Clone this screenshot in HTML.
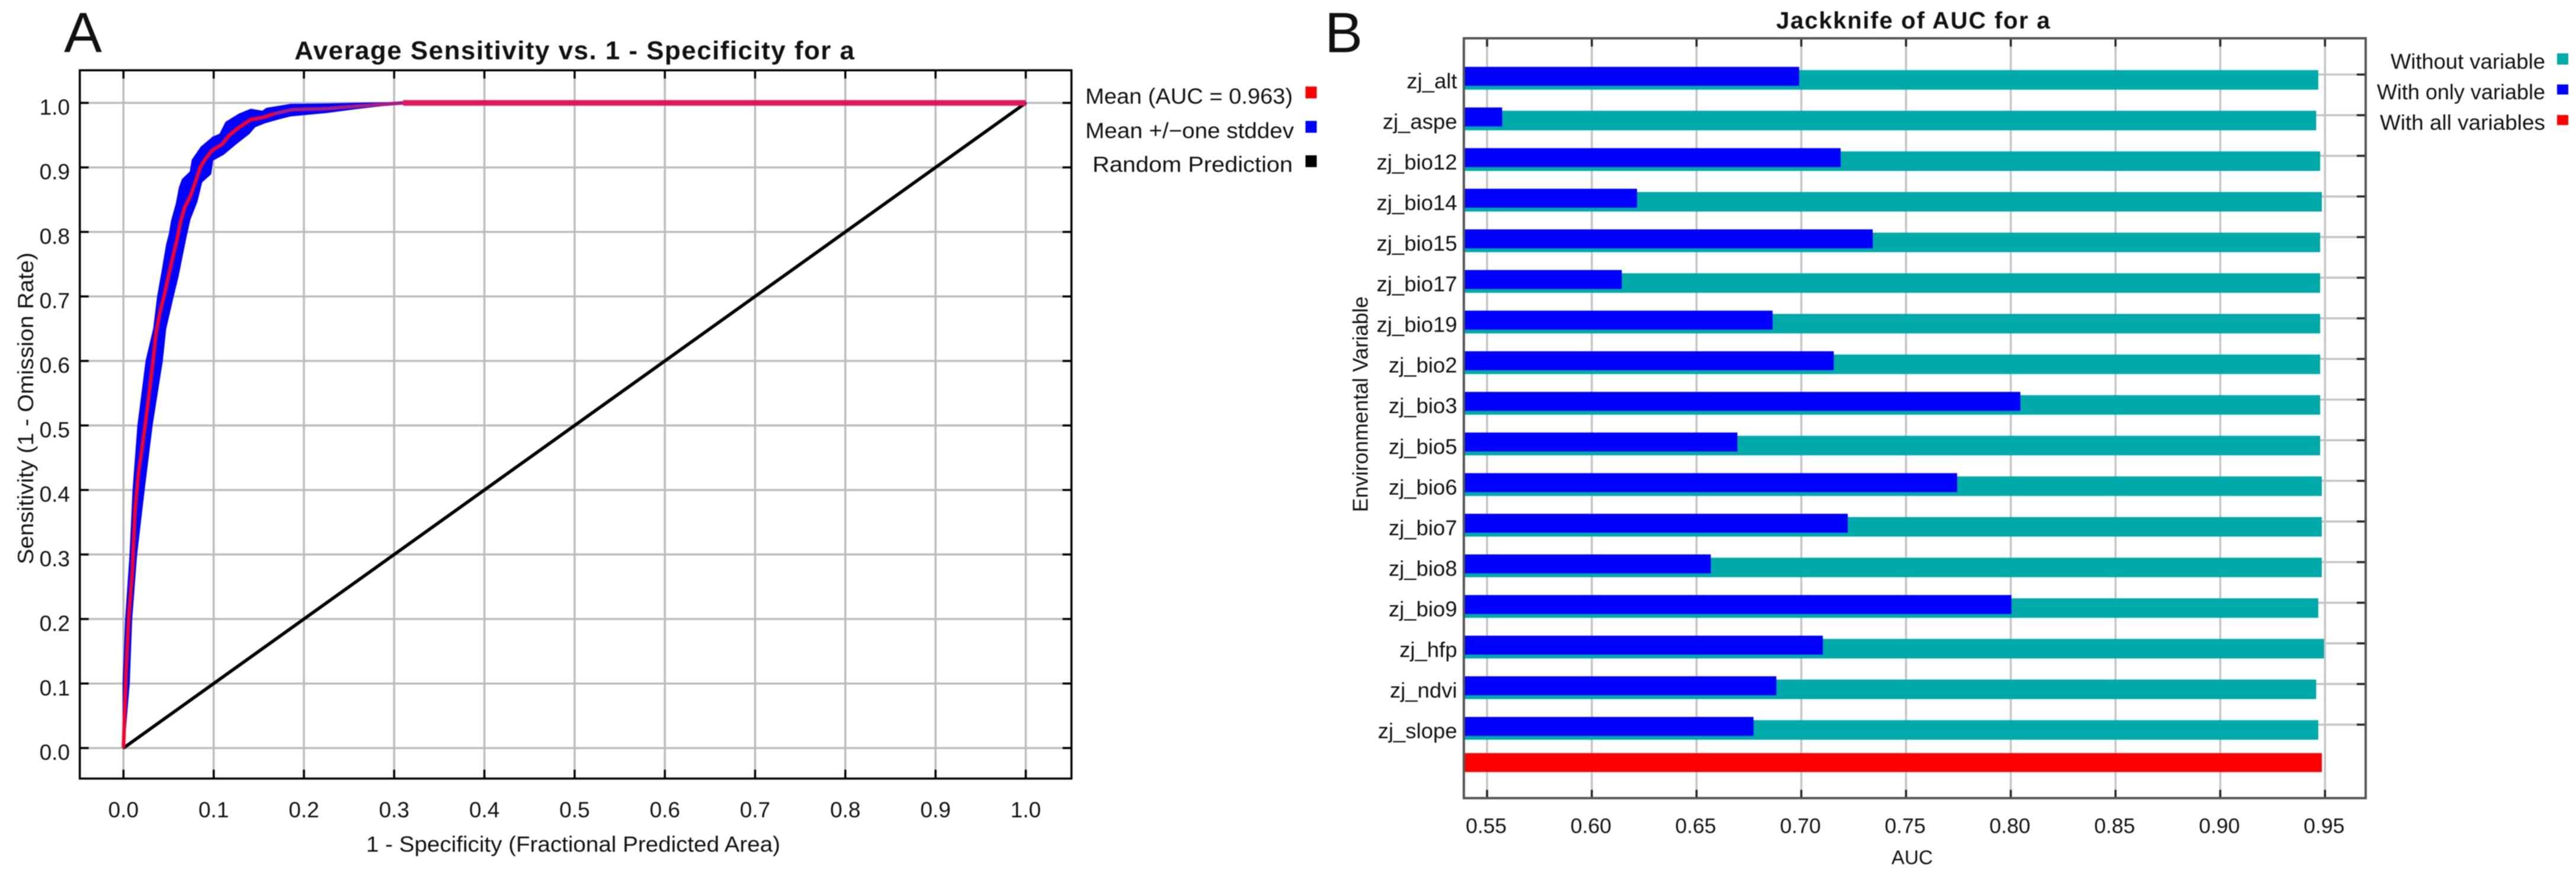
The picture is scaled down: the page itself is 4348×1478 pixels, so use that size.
<!DOCTYPE html>
<html lang="en">
<head>
<meta charset="utf-8">
<title>ROC curve and jackknife of AUC</title>
<style>
  html, body { margin: 0; padding: 0; background: #fff; }
  svg { display: block; font-family: "Liberation Sans", sans-serif; filter: blur(0.7px); }
  text { fill: #111; }
</style>
</head>
<body>
<svg id="figure" xmlns="http://www.w3.org/2000/svg" width="4348" height="1478" viewBox="0 0 4348 1478">
  <rect x="0" y="0" width="4348" height="1478" fill="#fff"/>
  <g id="panelA"></g>
  <g id="panelB"></g>

  <text x="108" y="88" font-size="96">A</text>
  <text x="497" y="100" font-size="44" font-weight="bold" textLength="945" lengthAdjust="spacing">Average Sensitivity vs. 1 - Specificity for a</text>
  <text x="618" y="1437" font-size="37" textLength="699" lengthAdjust="spacingAndGlyphs">1 - Specificity (Fractional Predicted Area)</text>
  <text transform="translate(56 952) rotate(-90)" font-size="37" textLength="526" lengthAdjust="spacingAndGlyphs">Sensitivity (1 - Omission Rate)</text>

  <g>
    <text x="1832" y="175" font-size="37" textLength="350" lengthAdjust="spacingAndGlyphs">Mean (AUC = 0.963)</text>
    <rect x="2203.5" y="146" width="19" height="20" fill="#ff0000"/>
    <text x="1832" y="233" font-size="37" textLength="352" lengthAdjust="spacingAndGlyphs">Mean +/−one stddev</text>
    <rect x="2203.5" y="204" width="19" height="20" fill="#0000ff"/>
    <text x="1844" y="290" font-size="37" textLength="338" lengthAdjust="spacingAndGlyphs">Random Prediction</text>
    <rect x="2203.5" y="262" width="19" height="20" fill="#000"/>
  </g>

  <text x="2236" y="88" font-size="96">B</text>
  <text x="2998" y="48" font-size="40" font-weight="bold" textLength="462" lengthAdjust="spacing">Jackknife of AUC for a</text>
  <text x="3192.5" y="1458" font-size="33" textLength="70" lengthAdjust="spacingAndGlyphs">AUC</text>
  <text transform="translate(2308.5 864) rotate(-90)" font-size="36" textLength="364" lengthAdjust="spacingAndGlyphs">Environmental Variable</text>

  <g>
    <text x="4035" y="116" font-size="36" textLength="261" lengthAdjust="spacingAndGlyphs">Without variable</text>
    <rect x="4316" y="90" width="19" height="19" fill="#00aaaa"/>
    <text x="4012" y="167.500" font-size="36" textLength="284" lengthAdjust="spacingAndGlyphs">With only variable</text>
    <rect x="4316" y="142.500" width="19" height="17" fill="#0000ff"/>
    <text x="4017" y="219" font-size="36" textLength="279" lengthAdjust="spacingAndGlyphs">With all variables</text>
    <rect x="4316" y="194" width="19" height="17" fill="#ff0000"/>
  </g>
</svg>

<script>
// ROC chart data
const rocTicks = [0.0, 0.1, 0.2, 0.3, 0.4, 0.5, 0.6, 0.7, 0.8, 0.9, 1.0];
const randomFpr = [0, 1];
const randomTpr = [0, 1];
const meanFpr = [0,.0028,.006,.0097,.0129,.0165,.0207,.024,.0328,.0359,.0405,.0449,.0503,.0547,.059,.0634,.0678,.0744,.0798,.0853,.0908,.0984,.1094,.1171,.128,.1411,.1542,.1674,.187,.2243,.26,.31,1];
const meanTpr = [0,.1166,.206,.27,.3685,.4245,.466,.5,.6,.641,.676,.70,.734,.761,.786,.8165,.838,.856,.8777,.9007,.913,.9268,.936,.9497,.962,.9742,.9773,.9834,.9895,.991,.995,1,1];
const upperFpr = [0,0,.0028,.0077,.011,.0164,.0255,.0339,.0383,.0437,.0481,.0514,.0536,.059,.0623,.0656,.0744,.0766,.0864,.0995,.1072,.1138,.128,.1411,.1542,.1586,.1849,.2243,.26,.31,1];
const upperTpr = [0,.1,.2,.3,.4,.5,.6,.65,.70,.743,.78,.798,.8165,.844,.8685,.881,.893,.9114,.9313,.9466,.9512,.9696,.9819,.9895,.9865,.991,.9971,.9978,.999,1,1];
const lowerFpr = [0,.006,.0087,.0142,.0225,.0313,.0426,.0464,.0547,.0601,.0645,.0689,.0733,.081,.0853,.0864,.0963,.0984,.1105,.1236,.1389,.1455,.1565,.1718,.1849,.2243,.26,.31,1];
const lowerTpr = [0,.1,.2,.3,.4,.5,.6,.65,.70,.7307,.7614,.792,.8196,.847,.8716,.8777,.89,.9114,.9206,.936,.9527,.9635,.9696,.9757,.9803,.9855,.992,1,1];

// Jackknife chart data
const variables = ['zj_alt','zj_aspe','zj_bio12','zj_bio14','zj_bio15','zj_bio17','zj_bio19','zj_bio2','zj_bio3','zj_bio5','zj_bio6','zj_bio7','zj_bio8','zj_bio9','zj_hfp','zj_ndvi','zj_slope'];
const withoutVariable = [.9468,.9458,.9477,.9485,.9477,.9477,.9477,.9477,.9477,.9477,.9485,.9485,.9485,.9468,.9495,.9458,.9468];
const onlyVariable = [.6990,.5572,.7188,.6216,.7341,.6143,.6863,.7155,.8046,.6695,.7744,.7222,.6568,.8003,.7103,.6881,.6772];
const allVariables = .9485;
const aucTicks = ['0.55','0.60','0.65','0.70','0.75','0.80','0.85','0.90','0.95'];

const SVG_NS = 'http://www.w3.org/2000/svg';
function make(tag, attrs, parent) {
  const node = document.createElementNS(SVG_NS, tag);
  for (const key in attrs) node.setAttribute(key, attrs[key]);
  parent.appendChild(node);
  return node;
}
function pts(xs, ys, fx, fy) {
  return xs.map((v, i) => fx(v).toFixed(1) + ',' + fy(ys[i]).toFixed(1)).join(' ');
}

/* ---------- Panel A ---------- */
const panelA = document.getElementById('panelA');
const aFrame = { left: 134.7, right: 1808.5, top: 118.6, bottom: 1313.6 };
const ax = v => 208.4 + v * 1523;
const ay = v => 1262.1 - v * 1088.5;

rocTicks.forEach(t => {
  let el = make('line', { x1: ax(t), x2: ax(t), y1: aFrame.top, y2: aFrame.bottom, stroke: '#bcbcbc', 'stroke-width': 3.5 }, panelA);
  
  
  el = make('line', { x1: aFrame.left, x2: aFrame.right, y1: ay(t), y2: ay(t), stroke: '#bcbcbc', 'stroke-width': 3.5 }, panelA);
  
  
});

const band = make('polygon', {
  points: pts(upperFpr, upperTpr, ax, ay) + ' ' + pts(lowerFpr.slice().reverse(), lowerTpr.slice().reverse(), ax, ay),
  fill: '#0000ff', stroke: '#0000ff', 'stroke-width': 3, 'stroke-linejoin': 'round'
}, panelA);



const randomLine = make('polyline', { points: pts(randomFpr, randomTpr, ax, ay), fill: 'none', stroke: '#000', 'stroke-width': 5.5 }, panelA);



function meanSegment(from, to, color, width) {
  const keep = meanFpr.map((v, i) => i).filter(i => meanFpr[i] >= from && meanFpr[i] <= to);
  return make('polyline', {
    points: pts(keep.map(i => meanFpr[i]), keep.map(i => meanTpr[i]), ax, ay),
    fill: 'none', stroke: color, 'stroke-width': width, 'stroke-linejoin': 'round', 'stroke-linecap': 'butt'
  }, panelA);
}
const meanFlat = meanSegment(0.31, 1, '#e3165c', 9.5);


const meanMid = meanSegment(0.1674, 0.31, '#a81a84', 6);


const meanRise = meanSegment(0, 0.1674, '#f8002c', 6);



rocTicks.forEach(t => {
  const ticks = [
    [ax(t), aFrame.top, ax(t), aFrame.top + 14],
    [ax(t), aFrame.bottom - 15, ax(t), aFrame.bottom],
    [aFrame.left, ay(t), aFrame.left + 15, ay(t)],
    [aFrame.right - 15, ay(t), aFrame.right, ay(t)]
  ];
  ticks.forEach(c => {
    const tick = make('line', { x1: c[0], y1: c[1], x2: c[2], y2: c[3], stroke: '#000', 'stroke-width': 3.5 }, panelA);
    
    
  });
  let label = make('text', { x: ax(t), y: 1379, 'font-size': 37, 'text-anchor': 'middle' }, panelA);
  label.textContent = t.toFixed(1);
  
  
  label = make('text', { x: 118, y: ay(t) + 20, 'font-size': 37, 'text-anchor': 'end' }, panelA);
  label.textContent = t.toFixed(1);
  
  
});

const aBox = make('rect', { x: aFrame.left, y: aFrame.top, width: aFrame.right - aFrame.left, height: aFrame.bottom - aFrame.top, fill: 'none', stroke: '#000', 'stroke-width': 3.5 }, panelA);



/* ---------- Panel B ---------- */
const panelB = document.getElementById('panelB');
const bFrame = { left: 2470.8, right: 3993, top: 64.6, bottom: 1346.6 };
const bx = v => 2510 + (v - 0.55) * 3535.8;
const by = i => 125.8 + i * 68.55;

aucTicks.forEach(t => {
  const v = parseFloat(t);
  const grid = make('line', { x1: bx(v), x2: bx(v), y1: bFrame.top, y2: bFrame.bottom, stroke: '#c4c4c4', 'stroke-width': 3.5 }, panelB);
  
  
});
variables.forEach((name, i) => {
  const grid = make('line', { x1: bFrame.left, x2: bFrame.right, y1: by(i), y2: by(i), stroke: '#c4c4c4', 'stroke-width': 3.5 }, panelB);
  
  
});

variables.forEach((name, i) => {
  const without = make('rect', { x: bFrame.left, y: by(i) - 7.5, width: bx(withoutVariable[i]) - bFrame.left, height: 33, fill: '#00aaaa' }, panelB);
  
  
  const only = make('rect', { x: bFrame.left, y: by(i) - 13, width: bx(onlyVariable[i]) - bFrame.left, height: 32, fill: '#0000ff' }, panelB);
  
  
  const label = make('text', { x: 2459.5, y: by(i) + 23, 'font-size': 36.5, 'text-anchor': 'end' }, panelB);
  label.textContent = name;
  
  
  const tick = make('line', { x1: bFrame.right - 15, x2: bFrame.right, y1: by(i), y2: by(i), stroke: '#222', 'stroke-width': 3.5 }, panelB);
  
  
});

const allBar = make('rect', { x: bFrame.left, y: by(variables.length) - 20.5, width: bx(allVariables) - bFrame.left, height: 32, fill: '#ff0000' }, panelB);



aucTicks.forEach(t => {
  const v = parseFloat(t);
  let tick = make('line', { x1: bx(v), x2: bx(v), y1: bFrame.top, y2: bFrame.top + 14, stroke: '#222', 'stroke-width': 3.5 }, panelB);
  
  
  tick = make('line', { x1: bx(v), x2: bx(v), y1: bFrame.bottom - 14, y2: bFrame.bottom, stroke: '#222', 'stroke-width': 3.5 }, panelB);
  
  
  const label = make('text', { x: bx(v) - 1.5, y: 1405.5, 'font-size': 35.5, 'text-anchor': 'middle' }, panelB);
  label.textContent = t;
  
  
});

const bBox = make('rect', { x: bFrame.left, y: bFrame.top, width: bFrame.right - bFrame.left, height: bFrame.bottom - bFrame.top, fill: 'none', stroke: '#555', 'stroke-width': 4 }, panelB);


</script>
</body>
</html>
